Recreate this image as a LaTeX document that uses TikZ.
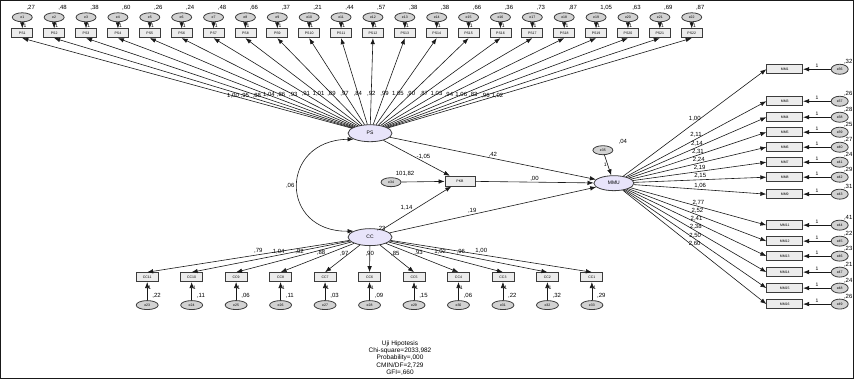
\documentclass[tikz,border=0pt]{standalone}
\usepackage{fontspec}
\setmainfont{Liberation Sans}
\usetikzlibrary{shapes, arrows, arrows.meta, positioning, calc}
\definecolor{latfill}{RGB}{232,228,250}
\definecolor{linegray}{RGB}{60,60,60}

\begin{document}
\begin{tikzpicture}[x=1pt, y=-1pt, >={Latex[length=6pt,width=4.5pt]},
	lat/.style={draw=linegray, line width=0.8pt, fill=latfill, ellipse, inner sep=0pt, minimum width=44pt, minimum height=17pt, font=\fontsize{5}{5}\selectfont},
	err/.style={draw=linegray, line width=0.8pt, fill=gray!35, ellipse, inner sep=0pt, minimum width=20pt, minimum height=9pt, font=\fontsize{3.5}{4}\selectfont},
	obs/.style={draw=linegray, line width=0.8pt, fill=gray!15, rectangle, inner sep=0pt, minimum width=21pt, minimum height=9pt, font=\fontsize{3.5}{4}\selectfont},
	val/.style={font=\fontsize{6}{6}\selectfont, inner sep=1pt},
	one/.style={font=\fontsize{5}{5}\selectfont, inner sep=1pt},
	every path/.style={line width=0.6pt, draw=black!90}]

	\useasboundingbox (0,0) rectangle (854,378);

	% latent variables
	\node[lat] (PS) at (370,133) {PS};
	\node[lat] (CC) at (370,237) {CC};
	\node[lat, minimum width=40pt, minimum height=15pt] (MMU) at (614,183) {MMU};
	\node[obs, minimum width=30pt, minimum height=10pt] (PKB) at (460,181) {PKB};
	\node[err] (e34) at (391,182) {e34};
	\node[err] (e35) at (603,150) {e35};
	\node[val, above=0pt of e34, xshift=14pt] {101,82};
	\node[val, above=0pt of e35, xshift=20pt] {,04};
	\node[val, above right=-2pt and -10pt of CC] {,23};

	% structural paths
	\draw[<->] (PS.200) .. controls (279,140) and (279,232) .. (CC.160)
		node[val, pos=0.5, left=2pt] {,06};
	\draw[->] (e34) -- (PKB);
	\draw[->] (e35) -- (MMU) node[one, midway, left] {1};
	\draw[->] (PS) -- (PKB) node[val, pos=0.45, right=2pt] {-1,05};
	\draw[->] (CC) -- (PKB) node[val, pos=0.5, left=3pt] {1,14};
	\draw[->] (PS) -- (MMU) node[val, pos=0.5, above] {,42};
	\draw[->] (CC) -- (MMU) node[val, pos=0.4, above] {,19};
	\draw[->] (PKB) -- (MMU) node[val, pos=0.5, above] {,00};

	% PS indicators
	\foreach \v/\w [count=\i] in {{,27}/{1,00},{,48}/{,95},{,38}/{,88},{,60}/{1,04},{,26}/{,86},{,24}/{,93},{,48}/{,91},{,66}/{1,01},{,37}/{,89},{,21}/{,97},{,44}/{,84},{,57}/{,92},{,38}/{,99},{,38}/{1,05},{,66}/{,90},{,36}/{,87},{,73}/{1,03},{,87}/{,94},{1,05}/{1,06},{,63}/{,83},{,69}/{,96},{,87}/{1,02}} {
		\pgfmathsetmacro\x{22+31.9*(\i-1)}
		\node[err] (e\i) at (\x,17) {e\i};
		\node[obs] (PS\i) at (\x,33) {PS\i};
		\node[val, anchor=south west] at (\x+3,11) {\v};
		\draw[->] (e\i) -- (PS\i) node[one, midway, right] {1};
		\draw[->] (PS) -- (PS\i.south) node[val, pos=0.36] {\w};
	}

	% CC indicators
	\foreach \n/\v/\w [count=\i] in {11/{,22}/{,79},10/{,11}/{1,04},9/{,06}/{,92},8/{,11}/{,88},7/{,03}/{,97},6/{,09}/{,90},5/{,15}/{,85},4/{,06}/{,93},3/{,22}/{1,02},2/{,32}/{,96},1/{,29}/{1,00}} {
		\pgfmathsetmacro\x{147+44.5*(\i-1)}
		\pgfmathtruncatemacro\k{22+\i}
		\node[obs, minimum width=22pt] (CC\n) at (\x,277) {CC\n};
		\node[err, minimum width=22pt] (e\k) at (\x,305) {e\k};
		\node[val, anchor=west] at (\x+4,296) {\v};
		\draw[->] (e\k) -- (CC\n) node[one, pos=0.7, right] {1};
		\draw[->] (CC) -- (CC\n.north) node[val, pos=0.45, above] {\w};
	}

	% MMU indicators
	\foreach \n/\y/\w/\v [count=\i] in {1/69/{1,00}/{,32},3/101/{2,11}/{,26},4/117/{2,14}/{,28},5/132/{2,31}/{,25},6/147/{2,24}/{,27},7/162/{2,19}/{,24},8/177/{2,15}/{,29},9/194/{1,06}/{,31},11/225/{2,77}/{,41},12/241/{2,52}/{,22},13/256/{2,41}/{,23},14/272/{2,38}/{,21},15/288/{2,50}/{,24},16/304/{2,60}/{,26}} {
		\pgfmathtruncatemacro\k{35+\i}
		\node[obs, minimum width=36pt] (MM\n) at (785,\y) {MM\n};
		\node[err, minimum width=17pt, minimum height=10pt] (e\k) at (840,\y) {e\k};
		\node[val, anchor=south east] at (854,\y-4) {\v};
		\draw[->] (e\k) -- (MM\n) node[one, midway, above] {1};
		\draw[->] (MMU) -- (MM\n.west) node[val, pos=0.5, above] {\w};
	}

	% fit summary
	\node[font=\fontsize{6.5}{7.5}\selectfont, align=center, inner sep=0pt] (fit) at (400,358)
		{Uji Hipotesis\\Chi-square=2033,982\\Probability=,000\\CMIN/DF=2,729\\GFI=,660};
\end{tikzpicture}
\end{document}
